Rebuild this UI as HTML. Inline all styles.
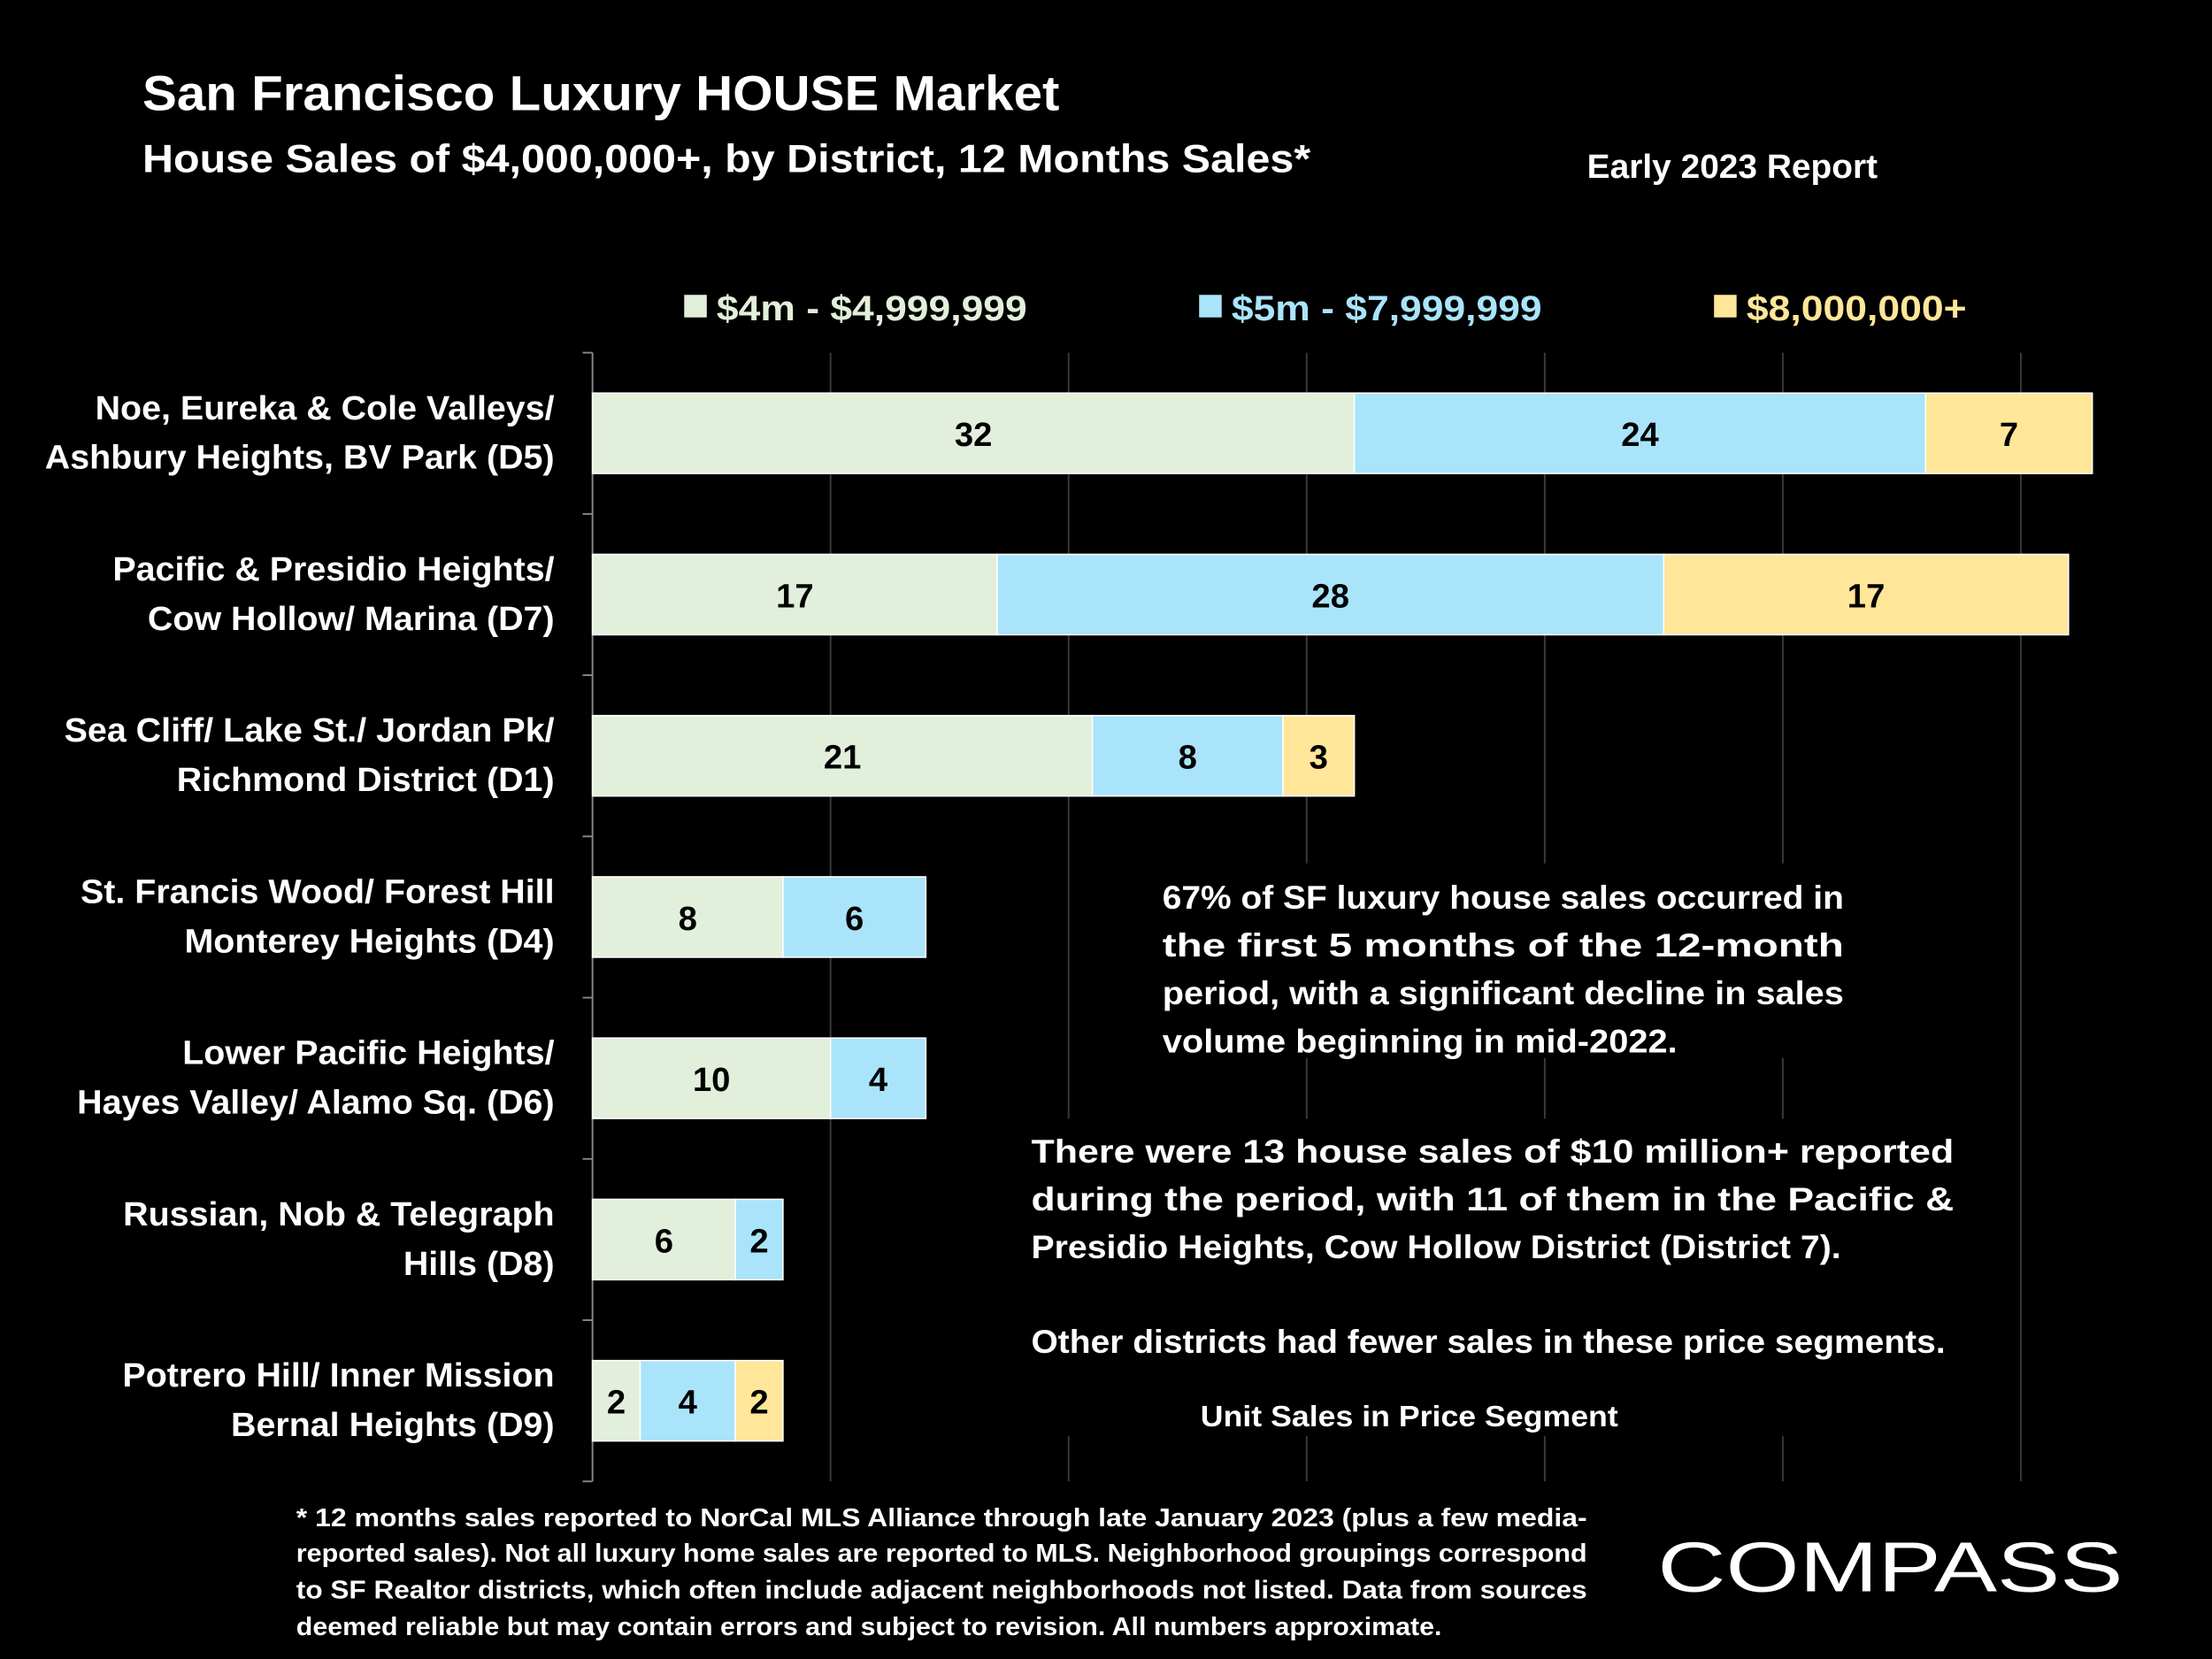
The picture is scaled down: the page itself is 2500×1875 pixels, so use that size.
<!DOCTYPE html>
<html><head><meta charset="utf-8"><style>
html,body{margin:0;padding:0;background:#000;}
svg{display:block;}
text{font-family:"Liberation Sans",sans-serif;font-weight:bold;}
</style></head><body>
<svg id="chart" width="2500" height="1875" viewBox="0 0 1568 1176" xmlns="http://www.w3.org/2000/svg">
<rect width="1568" height="1176" fill="#000"/>
<text x="101" y="78" fill="#fff" font-size="35" textLength="650" lengthAdjust="spacingAndGlyphs">San Francisco Luxury HOUSE Market</text>
<text x="101" y="122" fill="#fff" font-size="28" textLength="828" lengthAdjust="spacingAndGlyphs">House Sales of $4,000,000+, by District, 12 Months Sales*</text>
<text x="1125" y="126" fill="#fff" font-size="24" textLength="206" lengthAdjust="spacingAndGlyphs">Early 2023 Report</text>
<g id="grid"></g>
<g id="bars"></g>
<g id="cats"></g>
<g>
<rect x="485" y="209" width="16" height="16" fill="#e2efda"/>
<text x="508" y="227" fill="#e2efda" font-size="25" textLength="220" lengthAdjust="spacingAndGlyphs">$4m - $4,999,999</text>
<rect x="850" y="209" width="16" height="16" fill="#a9e4fa"/>
<text x="873" y="227" fill="#a9e4fa" font-size="25" textLength="220" lengthAdjust="spacingAndGlyphs">$5m - $7,999,999</text>
<rect x="1215" y="209" width="16" height="16" fill="#ffe699"/>
<text x="1238" y="227" fill="#ffe699" font-size="25" textLength="156" lengthAdjust="spacingAndGlyphs">$8,000,000+</text>
</g>
<g fill="#fff" font-size="23">
<rect x="810" y="612" width="510" height="138" fill="#000"/>
<text x="824" y="644" textLength="483" lengthAdjust="spacingAndGlyphs">67% of SF luxury house sales occurred in</text>
<text x="824" y="678" textLength="483" lengthAdjust="spacingAndGlyphs">the first 5 months of the 12-month</text>
<text x="824" y="712" textLength="483" lengthAdjust="spacingAndGlyphs">period, with a significant decline in sales</text>
<text x="824" y="746" textLength="365" lengthAdjust="spacingAndGlyphs">volume beginning in mid-2022.</text>
</g>
<g fill="#fff" font-size="23">
<rect x="720" y="793" width="680" height="225" fill="#000"/>
<text x="731" y="824" textLength="654" lengthAdjust="spacingAndGlyphs">There were 13 house sales of $10 million+ reported</text>
<text x="731" y="858" textLength="654" lengthAdjust="spacingAndGlyphs">during the period, with 11 of them in the Pacific &amp;</text>
<text x="731" y="892" textLength="574" lengthAdjust="spacingAndGlyphs">Presidio Heights, Cow Hollow District (District 7).</text>
<text x="731" y="959" textLength="648" lengthAdjust="spacingAndGlyphs">Other districts had fewer sales in these price segments.</text>
<text x="851" y="1011" font-size="21" textLength="296" lengthAdjust="spacingAndGlyphs">Unit Sales in Price Segment</text>
</g>
<g fill="#fff" font-size="18">
<text x="210" y="1082" textLength="915" lengthAdjust="spacingAndGlyphs">* 12 months sales reported to NorCal MLS Alliance through late January 2023 (plus a few media-</text>
<text x="210" y="1107" textLength="915" lengthAdjust="spacingAndGlyphs">reported sales). Not all luxury home sales are reported to MLS. Neighborhood groupings correspond</text>
<text x="210" y="1133" textLength="915" lengthAdjust="spacingAndGlyphs">to SF Realtor districts, which often include adjacent neighborhoods not listed. Data from sources</text>
<text x="210" y="1159" textLength="812" lengthAdjust="spacingAndGlyphs">deemed reliable but may contain errors and subject to revision. All numbers approximate.</text>
</g>
<text x="1175" y="1128" fill="#fff" font-size="50" style="font-weight:normal" textLength="330" lengthAdjust="spacingAndGlyphs">COMPASS</text>
</svg>
<script>
const categories1=["Noe, Eureka & Cole Valleys/","Pacific & Presidio Heights/","Sea Cliff/ Lake St./ Jordan Pk/","St. Francis Wood/ Forest Hill","Lower Pacific Heights/","Russian, Nob & Telegraph","Potrero Hill/ Inner Mission"];
const categories2=["Ashbury Heights, BV Park (D5)","Cow Hollow/ Marina (D7)","Richmond District (D1)","Monterey Heights (D4)","Hayes Valley/ Alamo Sq. (D6)","Hills (D8)","Bernal Heights (D9)"];
const s4m=[32,17,21,8,10,6,2];
const s5m=[24,28,8,6,4,2,4];
const s8m=[7,17,3,0,0,0,2];
const xTicks=[0,10,20,30,40,50,60,70];
const colors=["#e2efda","#a9e4fa","#ffe699"];
const NS="http://www.w3.org/2000/svg";
const x0=420,unit=16.875,topY=250,band=114.3;
const xs=v=>x0+v*unit;
const yb=i=>topY+i*band;
function mk(tag,attrs,parent){const e=document.createElementNS(NS,tag);for(const k in attrs)e.setAttribute(k,attrs[k]);parent.appendChild(e);return e;}
const grid=document.getElementById('grid');
xTicks.forEach((t,i)=>{if(t===0)return;
 const l=mk('line',{x1:xs(t),x2:xs(t),y1:topY,y2:topY+7*band,stroke:'#3a3a3a','stroke-width':1.2},grid);
 
 
});
const ax=mk('line',{x1:x0,x2:x0,y1:topY,y2:topY+7*band,stroke:'#888','stroke-width':1.2},grid);


for(let i=0;i<=7;i++){const tk=mk('line',{x1:x0-7,x2:x0,y1:yb(i),y2:yb(i),stroke:'#888','stroke-width':1.2},grid);
 
 }
const bars=document.getElementById('bars'),cats=document.getElementById('cats');
const series=[s4m,s5m,s8m];
const names=['4m','5m','8m'];
categories1.forEach((c,i)=>{
 const yc=yb(i)+band/2;let acc=0;
 series.forEach((s,k)=>{const v=s[i];if(!v)return;
  const r=mk('rect',{x:xs(acc),y:yc-28.5,width:v*unit,height:57,fill:colors[k],stroke:'#fff','stroke-width':1},bars);
  
  
  const t=mk('text',{x:xs(acc+v/2),y:yc+9,'text-anchor':'middle','font-size':24,fill:'#000'},bars);
  t.textContent=v;
  
  
  acc+=v;});
 const t1=mk('text',{x:393,y:yc-10,'text-anchor':'end','font-size':24,fill:'#fff'},cats);
 t1.textContent=c;
 
 
 const t2=mk('text',{x:393,y:yc+25,'text-anchor':'end','font-size':24,fill:'#fff'},cats);
 t2.textContent=categories2[i];
 
 
 [t1,t2].forEach(t=>{const w=t.getComputedTextLength();const tw=w*1.03;t.setAttribute('textLength',tw);t.setAttribute('lengthAdjust','spacingAndGlyphs');});
});
</script>
</body></html>
